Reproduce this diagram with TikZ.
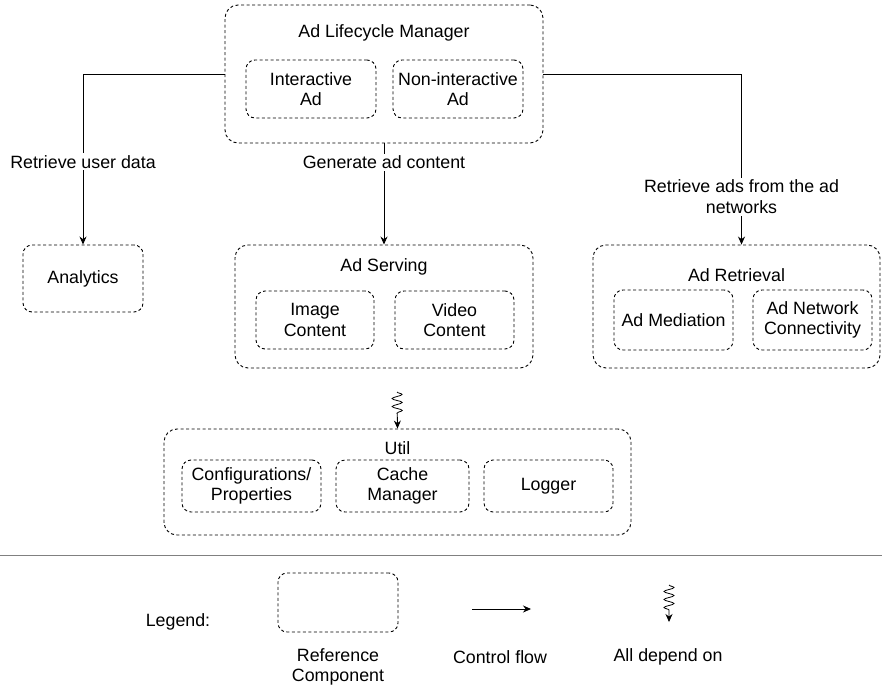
\documentclass[tikz,border=0pt]{standalone}
\usepackage{fontspec}
\setmainfont{Liberation Sans}
\usepackage{tikz}
\usetikzlibrary{arrows.meta, decorations.pathmorphing}

\begin{document}
\begin{tikzpicture}[x=1pt, y=-1pt,
  every node/.style={font=\fontsize{17.8}{20.5}\selectfont, align=center, inner sep=0pt},
  comp/.style={draw, dash pattern=on 3pt off 2.5pt, rounded corners=13pt, line width=0.9pt},
  subcomp/.style={comp, rounded corners=9pt},
  flow/.style={-{Stealth[length=8pt, width=7pt]}, line width=0.9pt},
  lbl/.style={fill=white, inner sep=2pt},
  depend/.style={-{Stealth[length=8pt, width=7pt]}, line width=0.8pt, decorate,
    decoration={snake, amplitude=5pt, segment length=8pt, post length=12pt}}]
\useasboundingbox (0,0) rectangle (882,690);
% Ad Lifecycle Manager
\node[comp, minimum width=318pt, minimum height=138pt] (alm) at (384,74) {};
\node (almtitle) at (384,33) {Ad Lifecycle Manager};
\node[subcomp, minimum width=130pt, minimum height=58pt] (inter) at (311,89) {Interactive\\Ad};
\node[subcomp, minimum width=130pt, minimum height=58pt] (noninter) at (458,89) {Non-interactive\\Ad};
% Analytics
\node[comp, rounded corners=9pt, minimum width=120pt, minimum height=67pt] (anl) at (83,278.5) {Analytics};
% Ad Serving
\node[comp, minimum width=298pt, minimum height=123pt] (ads) at (384,306.5) {};
\node (adstitle) at (384,267) {Ad Serving};
\node[subcomp, minimum width=118pt, minimum height=58pt] (img) at (315,320) {Image\\Content};
\node[subcomp, minimum width=119pt, minimum height=58pt] (vid) at (454.5,320) {Video\\Content};
% Ad Retrieval
\node[comp, minimum width=287pt, minimum height=123pt] (adr) at (736.5,306.5) {};
\node (adrtitle) at (736.5,275) {Ad Retrieval};
\node[subcomp, minimum width=119pt, minimum height=60pt] (med) at (673.5,320) {Ad Mediation};
\node[subcomp, minimum width=119pt, minimum height=60pt] (anc) at (812.5,320) {Ad Network\\Connectivity};
% Util
\node[comp, minimum width=467pt, minimum height=106pt] (util) at (397.5,482) {};
\node (utiltitle) at (397.5,448) {Util};
\node[subcomp, minimum width=139pt, minimum height=52pt] (conf) at (251.5,486) {Configurations/\\Properties};
\node[subcomp, minimum width=133pt, minimum height=52pt] (cache) at (402.5,486) {Cache\\Manager};
\node[subcomp, minimum width=129pt, minimum height=52pt] (log) at (548.5,486) {Logger};
% Control flow
\draw[flow] (alm.west) -| (anl.north) node[lbl, pos=0.757] (userdata) {Retrieve user data};
\draw[flow] (alm.south) -- (ads.north) node[lbl, pos=0.186] (gencontent) {Generate ad content};
\draw[flow] (alm.east) -| ([xshift=5pt]adr.north) node[lbl, pos=0.86] (retrieve) {Retrieve ads from the ad\\networks};
% Dependencies
\coordinate (dep) at (397,392);
\draw[depend] (dep) -- (util.north);
% Separator
\draw[gray, line width=0.9pt] (0,555) -- (882,555);
% Legend
\node (legend) at (178,622) {Legend:};
\node[comp, rounded corners=9pt, minimum width=120pt, minimum height=59pt] (refcomp) at (338,602.5) {};
\node (refcomplbl) at (338,667) {Reference\\Component};
\coordinate (flowstart) at (472,609);
\coordinate (flowend) at (531,609);
\draw[flow] (flowstart) -- (flowend);
\node (flowlbl) at (500,657) {Control flow};
\coordinate (depstart) at (669,585);
\coordinate (depend) at (669,622);
\draw[depend] (depstart) -- (depend);
\node (deplbl) at (668,657) {All depend on};
\end{tikzpicture}
\end{document}
